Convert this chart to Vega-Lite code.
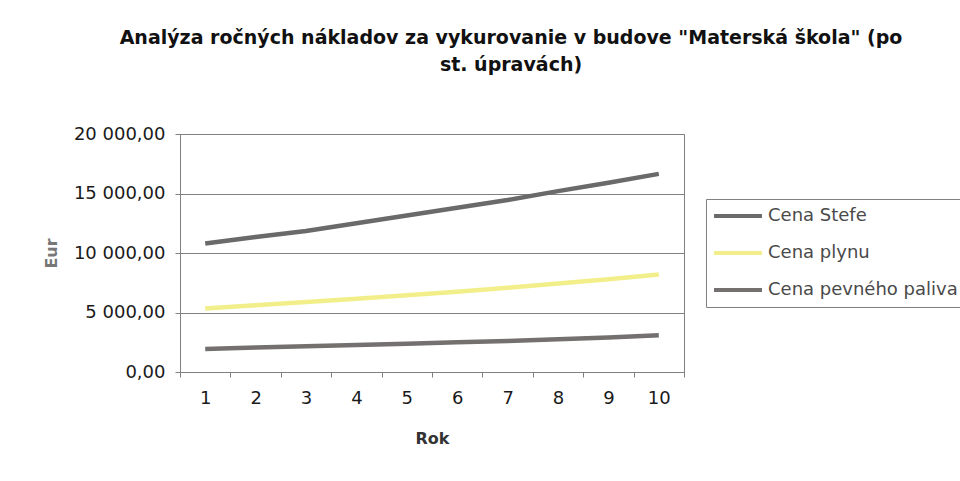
{
  "$schema": "https://vega.github.io/schema/vega-lite/v6.json",
  "autosize": {"type": "none"},
  "width": 504,
  "height": 238,
  "padding": {"left": 180, "top": 134, "right": 276, "bottom": 109},
  "background": "white",
  "config": {
    "locale": {"number": {"decimal": ",", "thousands": " ", "grouping": [3], "currency": ["", ""]}},
    "font": "DejaVu Sans",
    "view": {"stroke": "#808080", "strokeWidth": 1}
  },
  "title": {
    "text": ["Analýza ročných nákladov za vykurovanie v budove \"Materská škola\" (po", "st. úpravách)"],
    "font": "DejaVu Sans",
    "fontSize": 19,
    "fontWeight": "bold",
    "color": "#111111",
    "lineHeight": 27,
    "anchor": "middle",
    "frame": "group",
    "dx": 79,
    "offset": 50
  },
  "data": {
    "values": [
      {"rok": 1, "seria": "Cena Stefe", "eur": 10800},
      {"rok": 2, "seria": "Cena Stefe", "eur": 11350},
      {"rok": 3, "seria": "Cena Stefe", "eur": 11850},
      {"rok": 4, "seria": "Cena Stefe", "eur": 12500},
      {"rok": 5, "seria": "Cena Stefe", "eur": 13150},
      {"rok": 6, "seria": "Cena Stefe", "eur": 13800},
      {"rok": 7, "seria": "Cena Stefe", "eur": 14450},
      {"rok": 8, "seria": "Cena Stefe", "eur": 15200},
      {"rok": 9, "seria": "Cena Stefe", "eur": 15900},
      {"rok": 10, "seria": "Cena Stefe", "eur": 16650},
      {"rok": 1, "seria": "Cena plynu", "eur": 5330},
      {"rok": 2, "seria": "Cena plynu", "eur": 5600},
      {"rok": 3, "seria": "Cena plynu", "eur": 5880},
      {"rok": 4, "seria": "Cena plynu", "eur": 6150},
      {"rok": 5, "seria": "Cena plynu", "eur": 6450},
      {"rok": 6, "seria": "Cena plynu", "eur": 6750},
      {"rok": 7, "seria": "Cena plynu", "eur": 7080},
      {"rok": 8, "seria": "Cena plynu", "eur": 7430},
      {"rok": 9, "seria": "Cena plynu", "eur": 7800},
      {"rok": 10, "seria": "Cena plynu", "eur": 8200},
      {"rok": 1, "seria": "Cena pevného paliva", "eur": 1940},
      {"rok": 2, "seria": "Cena pevného paliva", "eur": 2050},
      {"rok": 3, "seria": "Cena pevného paliva", "eur": 2160},
      {"rok": 4, "seria": "Cena pevného paliva", "eur": 2260},
      {"rok": 5, "seria": "Cena pevného paliva", "eur": 2380},
      {"rok": 6, "seria": "Cena pevného paliva", "eur": 2490},
      {"rok": 7, "seria": "Cena pevného paliva", "eur": 2610},
      {"rok": 8, "seria": "Cena pevného paliva", "eur": 2750},
      {"rok": 9, "seria": "Cena pevného paliva", "eur": 2900},
      {"rok": 10, "seria": "Cena pevného paliva", "eur": 3080}
    ]
  },
  "mark": {"type": "line", "strokeWidth": 4.5, "strokeCap": "butt"},
  "encoding": {
    "x": {
      "field": "rok",
      "type": "ordinal",
      "sort": "ascending",
      "scale": {"type": "band", "paddingInner": 0, "paddingOuter": 0},
      "axis": {
        "title": "Rok",
        "titleFont": "DejaVu Sans",
        "titleFontSize": 16,
        "titleFontWeight": "bold",
        "titleColor": "#333333",
        "titlePadding": 23,
        "labelFont": "DejaVu Sans",
        "labelFontSize": 18,
        "labelColor": "#1a1a1a",
        "labelAngle": 0,
        "labelPadding": 12,
        "tickBand": "extent",
        "tickSize": 5,
        "tickColor": "#808080",
        "domainColor": "#808080",
        "grid": false
      }
    },
    "y": {
      "field": "eur",
      "type": "quantitative",
      "scale": {"domain": [0, 20000]},
      "axis": {
        "title": "Eur",
        "titleFont": "DejaVu Sans",
        "titleFontSize": 16,
        "titleFontWeight": "bold",
        "titleColor": "#777777",
        "titlePadding": 14,
        "values": [0, 5000, 10000, 15000, 20000],
        "format": ",.2f",
        "labelFont": "DejaVu Sans",
        "labelFontSize": 18,
        "labelColor": "#1a1a1a",
        "labelPadding": 10,
        "tickSize": 5,
        "tickColor": "#808080",
        "domainColor": "#808080",
        "grid": true,
        "gridColor": "#808080",
        "gridOpacity": 1,
        "gridWidth": 1.2
      }
    },
    "color": {
      "field": "seria",
      "type": "nominal",
      "sort": ["Cena Stefe", "Cena plynu", "Cena pevného paliva"],
      "scale": {
        "domain": ["Cena Stefe", "Cena plynu", "Cena pevného paliva"],
        "range": ["#6a6a6a", "#f2ef8a", "#747070"]
      },
      "legend": {
        "title": null,
        "orient": "none",
        "legendX": 526,
        "legendY": 65,
        "symbolType": "M-1,0L1,0",
        "symbolSize": 2300,
        "symbolStrokeWidth": 4,
        "clipHeight": 22,
        "labelFont": "DejaVu Sans",
        "labelFontSize": 18,
        "labelColor": "#4a4a4a",
        "labelOffset": 4,
        "labelLimit": 400,
        "rowPadding": 15,
        "padding": 6,
        "strokeColor": "#808080",
        "fillColor": "white"
      }
    }
  }
}
